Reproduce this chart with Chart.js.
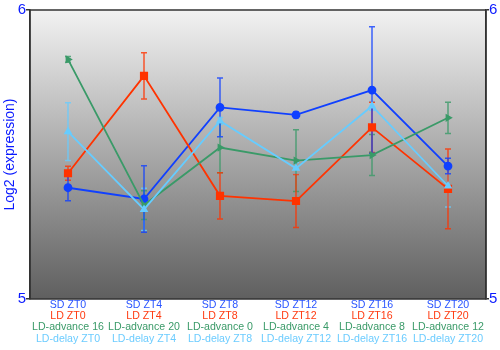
<!DOCTYPE html>
<html>
<head>
<meta charset="utf-8">
<script src="https://cdn.jsdelivr.net/npm/chart.js@4"></script>
<style>
  html, body { margin: 0; padding: 0; background: #fff; }
  #wrap { width: 500px; height: 350px; }
</style>
</head>
<body>
<div id="wrap"><canvas id="exprChart" width="500" height="350"></canvas></div>
<script>
// time points (one column per sampling point)
const sdLabels = ["SD ZT0", "SD ZT4", "SD ZT8", "SD ZT12", "SD ZT16", "SD ZT20"];
const ldLabels = ["LD ZT0", "LD ZT4", "LD ZT8", "LD ZT12", "LD ZT16", "LD ZT20"];
const advLabels = ["LD-advance 16", "LD-advance 20", "LD-advance 0", "LD-advance 4", "LD-advance 8", "LD-advance 12"];
const delayLabels = ["LD-delay ZT0", "LD-delay ZT4", "LD-delay ZT8", "LD-delay ZT12", "LD-delay ZT16", "LD-delay ZT20"];

// mean log2 expression and error per condition
const sdValues = [5.385, 5.346, 5.663, 5.637, 5.723, 5.460];
const sdErr = [0.045, 0.115, 0.102, 0.010, 0.219, 0.027];
const ldValues = [5.435, 5.772, 5.357, 5.339, 5.594, 5.381];
const ldErr = [0.024, 0.080, 0.080, 0.092, 0.087, 0.138];
const advValues = [5.829, 5.325, 5.524, 5.479, 5.498, 5.627];
const advErr = [0.010, 0.050, 0.087, 0.107, 0.071, 0.054];
const delayValues = [5.579, 5.310, 5.616, 5.452, 5.668, 5.391];
const delayErr = [0.100, 0.073, 0.012, 0.020, 0.015, 0.073];

const yTicks = [5, 6];

const BLUE = "#1040ff";
const RED = "#ff3300";
const GREEN = "#3a9a68";
const LIGHT = "#66ccff";
const AXIS_BLUE = "#0a1aff";
const FONT = "'Liberation Sans', Arial, sans-serif";

const labelRows = [
  { text: sdLabels, color: "#2a55ff" },
  { text: ldLabels, color: "#ff3a10" },
  { text: advLabels, color: "#3a9a68" },
  { text: delayLabels, color: "#6cccff" },
];

// grey gradient behind the plot area
const plotBackground = {
  id: "plotBackground",
  beforeDraw(chart) {
    const { ctx, chartArea: a } = chart;
    const g = ctx.createLinearGradient(0, a.top, 0, a.bottom);
    g.addColorStop(0, "#f2f2f2");
    g.addColorStop(1, "#5f5f5f");
    ctx.save();
    ctx.fillStyle = g;
    ctx.fillRect(a.left, a.top, a.right - a.left, a.bottom - a.top);
    ctx.restore();
  },
  afterDraw(chart) {
    const { ctx, chartArea: a } = chart;
    ctx.save();
    ctx.strokeStyle = "#333";
    ctx.lineWidth = 1.5;
    ctx.strokeRect(a.left, a.top, a.right - a.left, a.bottom - a.top);
    ctx.restore();
  }
};

// vertical error bars with small caps
const errorBars = {
  id: "errorBars",
  beforeDatasetsDraw(chart) {
    const { ctx } = chart;
    const x = chart.scales.x;
    const y = chart.scales.y;
    ctx.save();
    chart.data.datasets.forEach((ds) => {
      ctx.strokeStyle = ds.borderColor;
      ctx.globalAlpha = 0.8;
      ctx.lineWidth = 1.5;
      ds.data.forEach((v, i) => {
        const e = ds.errors[i];
        const px = x.getPixelForValue(i);
        const top = y.getPixelForValue(v + e);
        const bot = y.getPixelForValue(v - e);
        ctx.beginPath();
        ctx.moveTo(px, top);
        ctx.lineTo(px, bot);
        ctx.moveTo(px - 3, top);
        ctx.lineTo(px + 3, top);
        ctx.moveTo(px - 3, bot);
        ctx.lineTo(px + 3, bot);
        ctx.stroke();
      });
    });
    ctx.restore();
  }
};

// four coloured label rows under each column
const stackedLabels = {
  id: "stackedLabels",
  afterDraw(chart) {
    const { ctx } = chart;
    const x = chart.scales.x;
    const base = chart.chartArea.bottom;
    ctx.save();
    ctx.font = "10.6px " + FONT;
    ctx.textAlign = "center";
    ctx.textBaseline = "middle";
    labelRows.forEach((row, r) => {
      ctx.fillStyle = row.color;
      row.text.forEach((t, i) => {
        ctx.fillText(t, x.getPixelForValue(i), base + 5.8 + r * 11.3);
      });
    });
    ctx.restore();
  }
};

const axisTicks = {
  min: 5,
  max: 6,
  afterBuildTicks: (s) => { s.ticks = yTicks.map((v) => ({ value: v })); },
};

new Chart(document.getElementById("exprChart"), {
  type: "line",
  data: {
    labels: sdLabels,
    datasets: [
      {
        label: "LD-delay", data: delayValues, errors: delayErr,
        borderColor: LIGHT, backgroundColor: LIGHT, borderWidth: 1.8,
        pointStyle: "triangle", pointRadius: 3.2,
      },
      {
        label: "LD-advance", data: advValues, errors: advErr,
        borderColor: GREEN, backgroundColor: GREEN, borderWidth: 1.8,
        pointStyle: "triangle", pointRotation: 90, pointRadius: 3,
      },
      {
        label: "LD", data: ldValues, errors: ldErr,
        borderColor: RED, backgroundColor: RED, borderWidth: 1.8,
        pointStyle: "rect", pointRadius: 4.5,
      },
      {
        label: "SD", data: sdValues, errors: sdErr,
        borderColor: BLUE, backgroundColor: BLUE, borderWidth: 1.8,
        pointStyle: "circle", pointRadius: 3.5,
      },
    ],
  },
  options: {
    responsive: false,
    animation: false,
    layout: { padding: { top: 10, left: 0, right: 0, bottom: 0 } },
    plugins: {
      legend: { display: false },
      tooltip: { enabled: false },
    },
    scales: {
      x: {
        offset: true,
        grid: { display: false },
        border: { display: false },
        ticks: { display: false },
        afterFit: (s) => { s.height = 51; },
      },
      y: {
        ...axisTicks,
        position: "left",
        grid: { drawOnChartArea: false, tickLength: 4, color: "#333", lineWidth: 1.5 },
        border: { color: "#333", width: 1.5 },
        ticks: { color: AXIS_BLUE, font: { size: 15, family: FONT }, padding: 0 },
        title: {
          display: true,
          text: "Log2 (expression)",
          color: AXIS_BLUE,
          font: { size: 14, family: FONT },
          padding: { top: 2, bottom: 0 },
        },
        afterFit: (s) => { s.width = 30; },
      },
      y2: {
        ...axisTicks,
        position: "right",
        grid: { drawOnChartArea: false, tickLength: 3, color: "#333", lineWidth: 1.5 },
        border: { color: "#333", width: 1.5 },
        ticks: { color: AXIS_BLUE, font: { size: 15, family: FONT }, padding: 0 },
        afterFit: (s) => { s.width = 14; },
      },
    },
  },
  plugins: [plotBackground, errorBars, stackedLabels],
});
</script>
</body>
</html>
